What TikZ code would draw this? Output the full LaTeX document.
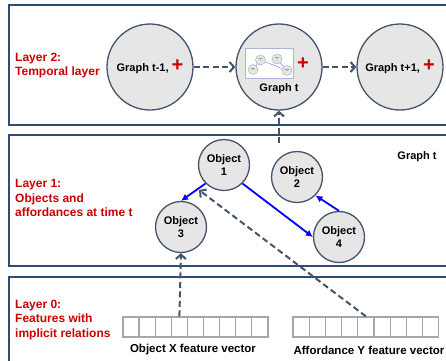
\documentclass[tikz,border=0pt]{standalone}
\usepackage{fontspec}
\setmainfont{Liberation Sans}
\usetikzlibrary{arrows.meta}

\definecolor{layerred}{HTML}{CC0000}
\definecolor{framenavy}{HTML}{2F4D73}
\definecolor{linkgray}{HTML}{44546A}
\definecolor{nodefill}{HTML}{E6E6E6}
\definecolor{cellgray}{HTML}{A6A6A6}
\definecolor{insetblue}{HTML}{A9B8D6}

\newcommand{\redplus}{\textcolor{layerred}{\fontsize{20}{20}\selectfont\bfseries +}}

\tikzset{
  layerbox/.style={draw=framenavy, line width=1.5pt},
  layerlabel/.style={text=layerred, font=\fontsize{12}{14.5}\selectfont\bfseries, align=left, anchor=west, inner sep=0pt},
  graphnode/.style={circle, draw=linkgray, fill=nodefill, line width=1.3pt, minimum size=86pt, inner sep=0pt, font=\fontsize{11}{13}\selectfont\bfseries},
  objnode/.style={circle, draw=linkgray, fill=nodefill, line width=1.3pt, minimum size=51pt, inner sep=0pt, align=center, font=\fontsize{11}{13}\selectfont\bfseries},
  mininode/.style={circle, draw=linkgray!60, fill=nodefill, line width=0.3pt, minimum size=10pt, inner sep=0pt, align=center, font=\fontsize{1.5}{1.8}\selectfont},
  cell/.style={draw=cellgray, fill=white, line width=1.3pt, minimum width=16.2pt, minimum height=20pt, inner sep=0pt},
  caption/.style={font=\fontsize{11.5}{13}\selectfont\bfseries, inner sep=0pt},
  feedlink/.style={draw=linkgray, line width=2pt, dash pattern=on 6pt off 3.5pt, -{Straight Barb[length=4.5pt,width=10pt,line width=2pt]}},
  relink/.style={draw=blue, line width=1.8pt, -{Latex[length=7pt,width=7pt]}},
  minilink/.style={draw=blue!70, line width=0.3pt}
}

\begin{document}
\begin{tikzpicture}[x=1pt, y=-1pt]
\useasboundingbox (0,0) rectangle (446,360);
\clip (0,0) rectangle (446,360);

% layer frames
\draw[layerbox] (9,5) rectangle (470,125);
\draw[layerbox] (9,135) rectangle (470,266);
\draw[layerbox] (9,277) rectangle (470,390);

\node[layerlabel] (lab2) at (15,65.5) {Layer 2:\\Temporal layer};
\node[layerlabel] (lab1) at (15,198) {Layer 1:\\Objects and\\affordances at time t};
\node[layerlabel] (lab0) at (15,320) {Layer 0:\\Features with\\implicit relations};

% layer 2: temporal graphs
\node[graphnode] (gprev) at (150,67) {Graph t-1, \redplus};
\node[graphnode] (gt) at (279,67) {};
\node[graphnode] (gnext) at (400,67) {Graph t+1, \redplus};

\node[draw=insetblue, fill=white, line width=0.8pt, minimum width=48pt, minimum height=30pt, inner sep=0pt] (inset) at (269,63) {};
\node[mininode] (m1) at (260.5,60) {Object\\1};
\node[mininode] (m2) at (277,59) {Object\\2};
\node[mininode] (m3) at (253,69.5) {Object\\3};
\node[mininode] (m4) at (287,70.5) {Object\\4};
\draw[minilink] (m1) -- (m3);
\draw[minilink] (m1) -- (m4);
\draw[minilink] (m4) -- (m2);
\node[inner sep=0pt] (gtplus) at (303,64) {\redplus};
\node[font=\fontsize{11}{13}\selectfont\bfseries, inner sep=0pt] (gtname) at (279,89) {Graph t};

\draw[feedlink] (gprev) -- (gt);
\draw[feedlink] (gt) -- (gnext);

% layer 1: objects and affordances
\node[objnode] (o1) at (224,165) {Object\\1};
\node[objnode] (o2) at (297,177) {Object\\2};
\node[objnode] (o3) at (181,227) {Object\\3};
\node[objnode] (o4) at (339,237) {Object\\4};
\node[font=\fontsize{11}{13}\selectfont\bfseries, inner sep=0pt] (gtlabel) at (417,157) {Graph t};

\draw[relink] (o1.-135) -- (o3.north);
\draw[relink] (o1.-45) -- (o4.west);
\draw[relink] (o4.north) -- (o2.-45);

\coordinate (gtup) at (279,143);
\draw[feedlink] (gtup) -- (gt);

% layer 0: feature vectors
\foreach \i in {0,...,8} {
  \node[cell] (fx\i) at (131.1+16.1*\i,327) {};
  \node[cell] (fy\i) at (301.1+16.2*\i,327) {};
}
\node[caption] (capx) at (193,350) {Object X feature vector};
\node[caption] (capy) at (369,350) {Affordance Y feature vector};

\coordinate (o1foot) at (199,190);
\draw[feedlink] (fx3.north) -- (o3.south);
\draw[feedlink] (fy4.north) -- (o1foot);
\end{tikzpicture}
\end{document}
